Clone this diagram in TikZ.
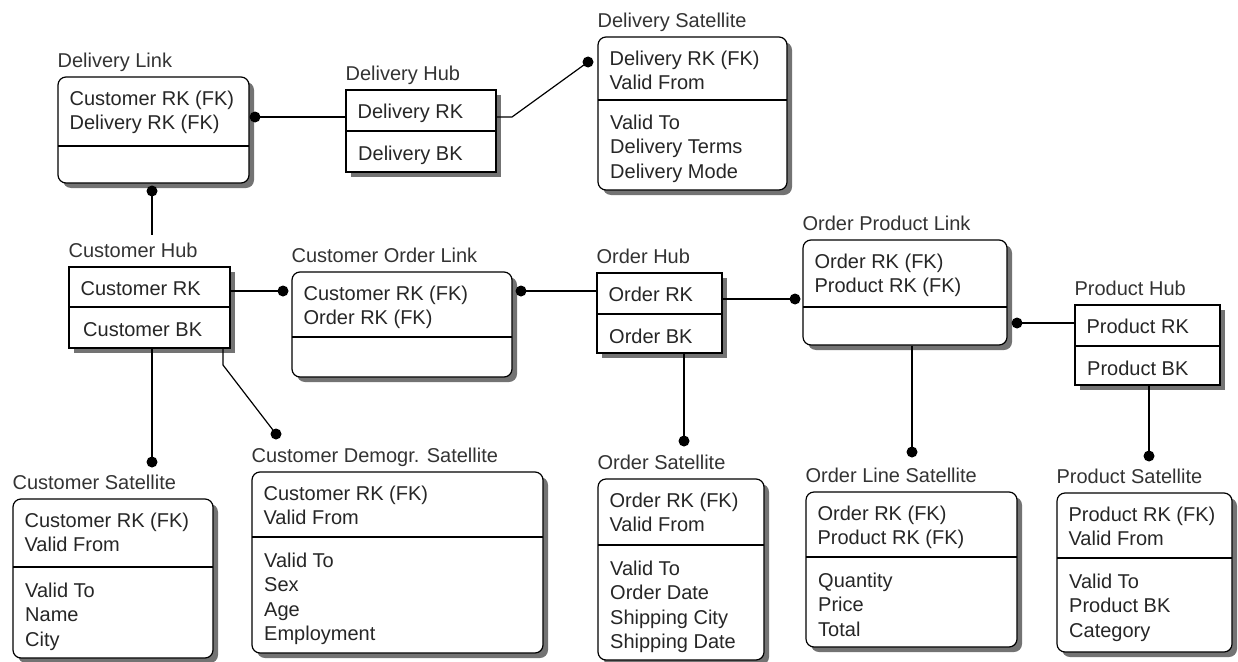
\documentclass[tikz,border=0pt]{standalone}
\usepackage{fontspec}
\setmainfont{Liberation Sans}
\usetikzlibrary{calc,fit}
\tikzset{
  hubbox/.style={draw=black, line width=1.2pt, fill=white, inner sep=0pt},
  linkbox/.style={hubbox, rounded corners=8pt},
  hubshadow/.style={fill=black!55},
  linkshadow/.style={fill=black!55, rounded corners=8pt},
  ttl/.style={anchor=base west, inner sep=0pt, text=black!80, font=\fontsize{20}{24.5}\selectfont},
  fld/.style={anchor=base west, inner sep=0pt, text=black!85, font=\fontsize{20}{24.5}\selectfont},
  conn/.style={line width=1.2pt, draw=black},
  dotc/.style={fill=black},
}
\newcommand\rows[1]{\begin{tabular}[t]{@{}l@{}}#1\end{tabular}}
\newcommand\ent[9]{%
  \path[#7shadow] (#2+5,#3+5) rectangle (#4+5,#5+5);
  \coordinate (#1-nw) at (#2,#3);
  \coordinate (#1-se) at (#4,#5);
  \node[#7box, fit=(#1-nw)(#1-se)] (#1) {};
  \draw[line width=1.2pt] (#2,#6) -- (#4,#6);
  \node[ttl] (#1-t) at ($(#1.north west)+(0,-9)$) {#8};
  \node[fld] (#1-a) at ($(#1.north west)+(12,29)$) {\rows{#9}};
}
\begin{document}
\begin{tikzpicture}[x=1pt,y=-1pt]
\useasboundingbox (0,0) rectangle (1238,661);

% entities
\ent{dl}{58}{77}{249}{183}{146}{link}{Delivery Link}{Customer RK (FK)\\Delivery RK (FK)}
\ent{dh}{346}{90}{496}{172}{131}{hub}{Delivery Hub}{Delivery RK}
\node[fld] (dh-b) at (358,160) {Delivery BK};
\ent{ds}{598}{37}{787}{190}{100}{link}{Delivery Satellite}{Delivery RK (FK)\\Valid From}
\node[fld] (ds-b) at (610,129) {\rows{Valid To\\Delivery Terms\\Delivery Mode}};

\ent{ch}{69}{267}{230}{348}{307}{hub}{Customer Hub}{Customer RK}
\node[fld] (ch-b) at (83,336) {Customer BK};
\ent{col}{292}{272}{512}{377}{337}{link}{Customer Order Link}{Customer RK (FK)\\Order RK (FK)}
\ent{oh}{597}{273}{722}{353}{314}{hub}{Order Hub}{Order RK}
\node[fld] (oh-b) at (609,343) {Order BK};
\ent{opl}{803}{240}{1007}{345}{307}{link}{Order Product Link}{Order RK (FK)\\Product RK (FK)}
\ent{ph}{1075}{305}{1220}{385}{346}{hub}{Product Hub}{Product RK}
\node[fld] (ph-b) at (1087,375) {Product BK};

\ent{cs}{13}{499}{213}{658}{567}{link}{Customer Satellite}{Customer RK (FK)\\Valid From}
\node[fld] (cs-b) at (25,597) {\rows{Valid To\\Name\\City}};
\ent{cds}{252}{472}{543}{653}{537}{link}{Customer Demogr. Satellite}{Customer RK (FK)\\Valid From}
\node[fld] (cds-b) at (264,567) {\rows{Valid To\\Sex\\Age\\Employment}};
\ent{os}{598}{479}{764}{660}{545}{link}{Order Satellite}{Order RK (FK)\\Valid From}
\node[fld] (os-b) at (610,575) {\rows{Valid To\\Order Date\\Shipping City\\Shipping Date}};
\ent{ols}{806}{492}{1017}{647}{557}{link}{Order Line Satellite}{Order RK (FK)\\Product RK (FK)}
\node[fld] (ols-b) at (818,587) {\rows{Quantity\\Price\\Total}};
\ent{ps}{1057}{493}{1232}{652}{558}{link}{Product Satellite}{Product RK (FK)\\Valid From}
\node[fld] (ps-b) at (1069,588) {\rows{Valid To\\Product BK\\Category}};

% connector end points
\coordinate (p1) at (255,117);
\coordinate (p2) at (152,191);
\coordinate (p3) at (588,62);
\coordinate (p4) at (283,291);
\coordinate (p5) at (521,291);
\coordinate (p6) at (795,299);
\coordinate (p7) at (1017,323);
\coordinate (p8) at (152,462);
\coordinate (p9) at (276,434);
\coordinate (p10) at (684,441);
\coordinate (p11) at (912,452);
\coordinate (p12) at (1149,456);
\coordinate (k1) at (512,117);
\coordinate (k2) at (223,365);
\coordinate (k3) at (152,235);

% connectors
\draw[conn] (p1) -- (dh.west |- p1);
\draw[conn] (dh.east |- k1) -- (k1) -- (p3);
\draw[conn] (p2) -- (k3);
\draw[conn] (ch.east |- p4) -- (p4);
\draw[conn] (p5) -- (oh.west |- p5);
\draw[conn] (oh.east |- p6) -- (p6);
\draw[conn] (p7) -- (ph.west |- p7);
\draw[conn] (ch.south -| p8) -- (p8);
\draw[conn] (ch.south -| k2) -- (k2) -- (p9);
\draw[conn] (oh.south -| p10) -- (p10);
\draw[conn] (opl.south -| p11) -- (p11);
\draw[conn] (ph.south -| p12) -- (p12);

% dots
\foreach \p in {p1,p2,p3,p4,p5,p6,p7,p8,p9,p10,p11,p12}
  \fill[dotc] (\p) circle (5.5pt);
\end{tikzpicture}
\end{document}
